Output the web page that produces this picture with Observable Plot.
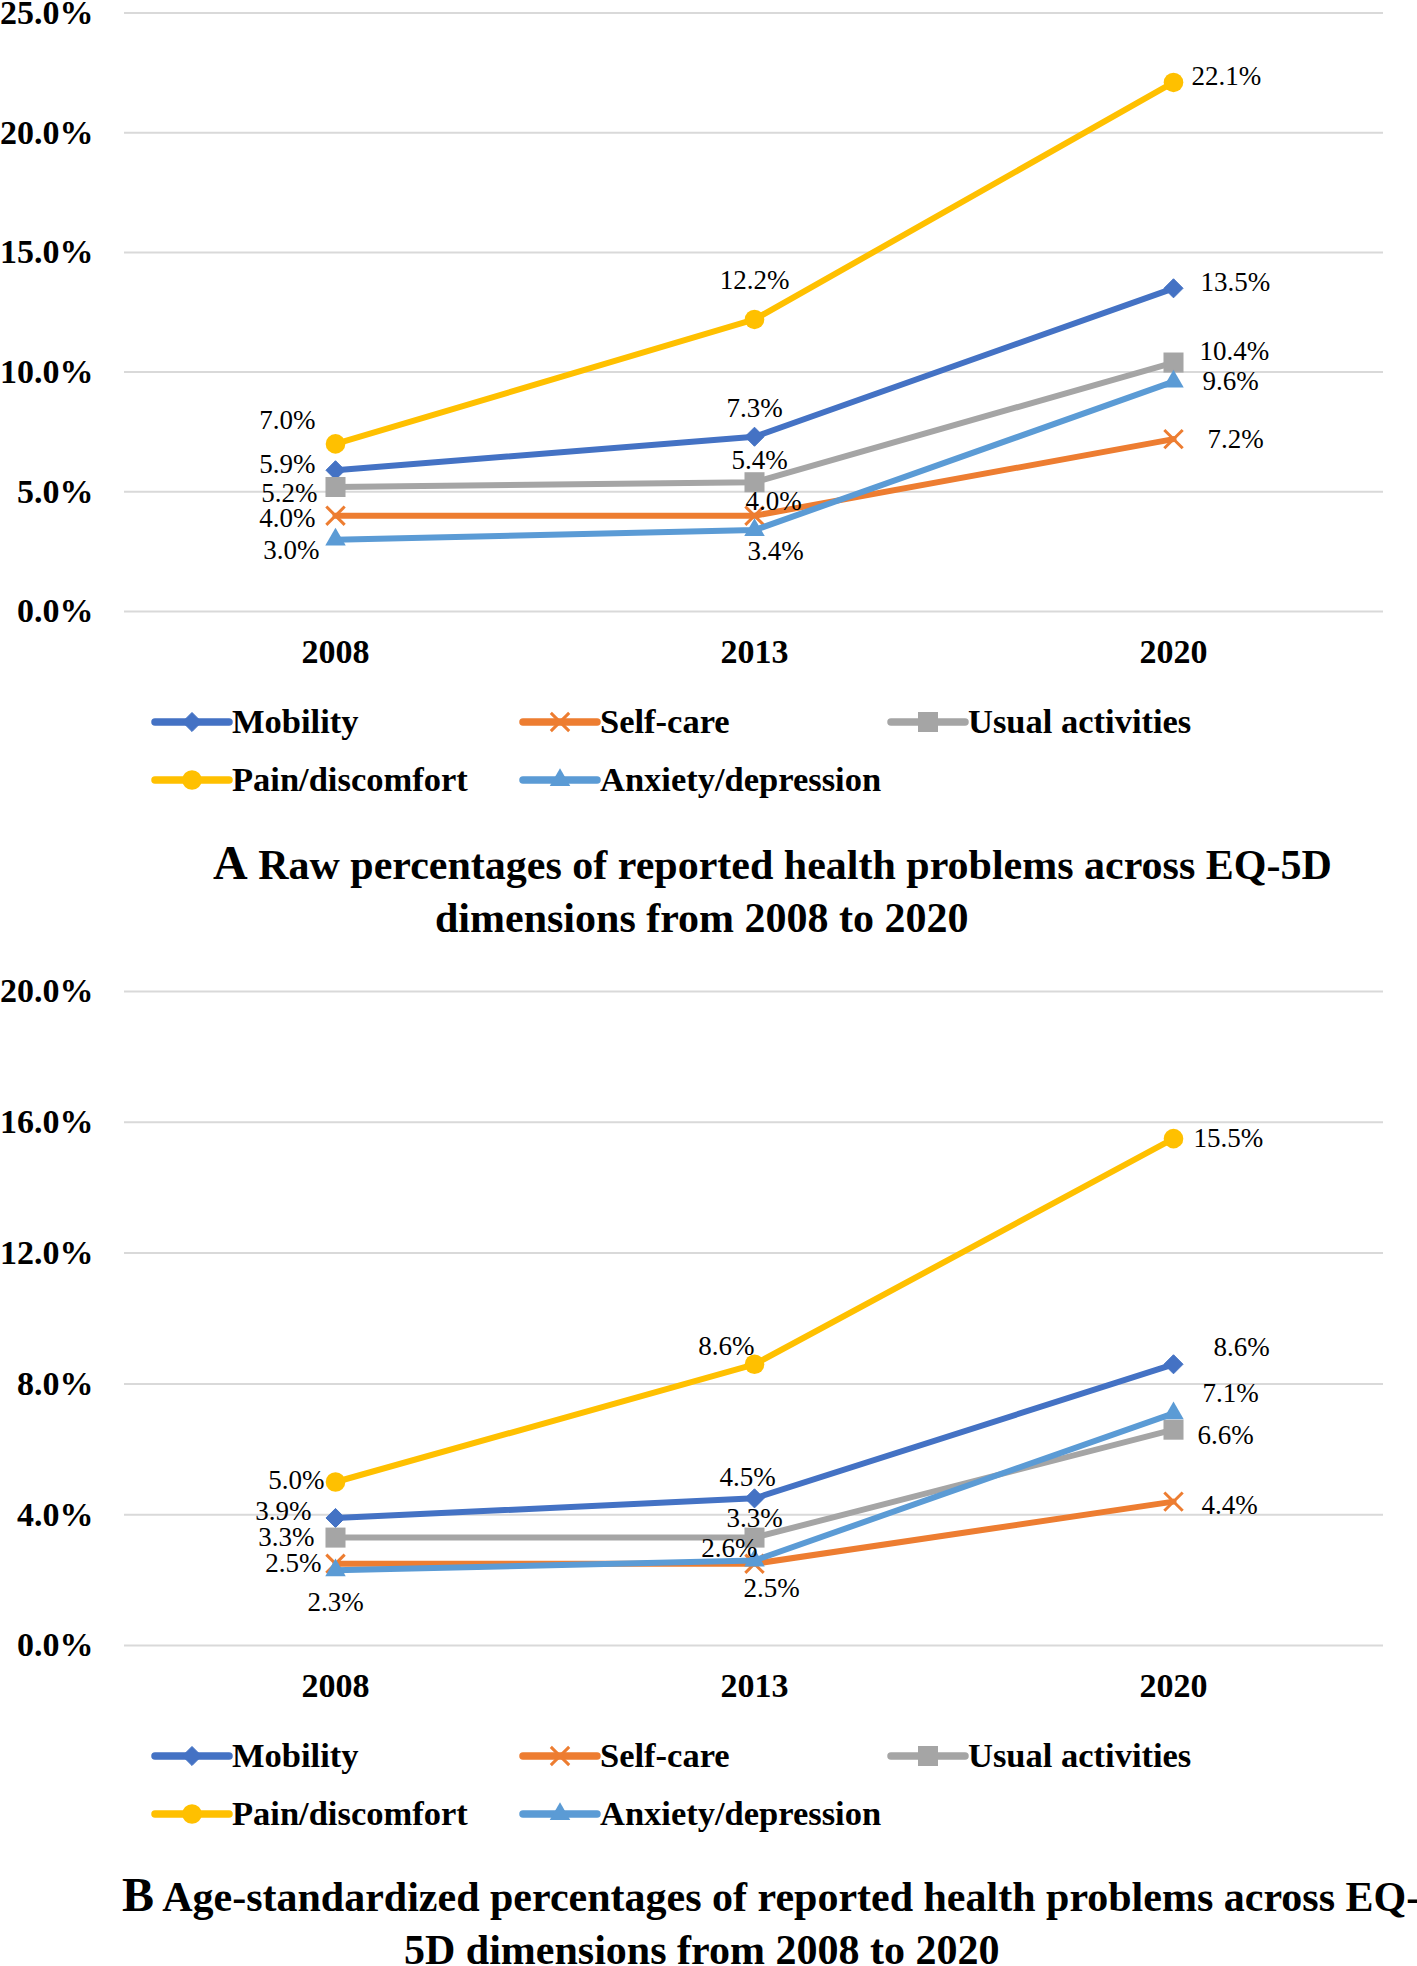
<!DOCTYPE html>
<html>
<head>
<meta charset="utf-8">
<script src="https://cdn.jsdelivr.net/npm/d3@7"></script>
<script src="https://cdn.jsdelivr.net/npm/@observablehq/plot@0.6"></script>
<style>
  html, body { margin: 0; padding: 0; background: #fff; overflow: hidden; }
  #page { position: relative; width: 1417px; height: 1966px; overflow: hidden; background: #fff;
          font-family: "Liberation Serif", "Times New Roman", serif; color: #000; }
  #page > svg { position: absolute; left: 0; }
</style>
</head>
<body>
<div id="page"></div>
<script>
// ---------------- DATA ----------------
const years = ["2008", "2013", "2020"];
const dimensions = ["Mobility", "Self-care", "Usual activities", "Pain/discomfort", "Anxiety/depression"];

// Panel A: raw percentages (%)
const rawMobility          = [5.9, 7.3, 13.5];
const rawSelfCare          = [4.0, 4.0, 7.2];
const rawUsualActivities   = [5.2, 5.4, 10.4];
const rawPainDiscomfort    = [7.0, 12.2, 22.1];
const rawAnxietyDepression = [3.0, 3.4, 9.6];

// Panel B: age-standardized percentages (%)
const stdMobility          = [3.9, 4.5, 8.6];
const stdSelfCare          = [2.5, 2.5, 4.4];
const stdUsualActivities   = [3.3, 3.3, 6.6];
const stdPainDiscomfort    = [5.0, 8.6, 15.5];
const stdAnxietyDepression = [2.3, 2.6, 7.1];

// Tick labels
const yTicksA = [0, 5, 10, 15, 20, 25];
const yTicksB = [0, 4, 8, 12, 16, 20];

// Titles
const titleA1 = ["A", " Raw percentages of reported health problems across EQ-5D"];
const titleA2 = "dimensions from 2008 to 2020";
const titleB1 = ["B", " Age-standardized percentages of reported health problems across EQ-"];
const titleB2 = "5D dimensions from 2008 to 2020";

// ---------------- STYLES ----------------
const FONT = '"Liberation Serif", "Times New Roman", serif';
const colors = ["#4472C4", "#ED7D31", "#A5A5A5", "#FFC000", "#5B9BD5"];
const plotSymbols = ["diamond2", "times", "square", "circle", "triangle"];
const d3Symbols = [d3.symbolDiamond2, d3.symbolTimes, d3.symbolSquare, d3.symbolCircle, d3.symbolTriangle];
const markerR = [8.6, 8.4, 11.3, 9.8, 7.6];

// Label placement per series per year: [textAnchor, dx, dy] (pixel offsets from the point)
const labelPosA = [
  [["end", -20, -6],  ["middle", 0, -28],  ["start", 27, -6]],
  [["end", -20, 3],   ["middle", 19, -14], ["start", 34, 0]],
  [["end", -18, 6],   ["middle", 5, -22],  ["start", 26, -11]],
  [["end", -20, -24], ["middle", 0, -39],  ["start", 18, -6]],
  [["end", -16, 11],  ["middle", 21, 21],  ["start", 29, 0]]
];
const labelPosB = [
  [["end", -24, -7],  ["middle", -7, -21], ["start", 40, -17]],
  [["end", -14, 0],   ["middle", 17, 25],  ["start", 28, 4]],
  [["end", -21, 0],   ["middle", 0, -19],  ["start", 24, 6]],
  [["end", -11, -2],  ["end", 0, -18],     ["start", 20, 0]],
  [["middle", 0, 32], ["end", 3, -12],     ["start", 29, -20]]
];

// ---------------- BUILDERS ----------------
function rowsFor(seriesValues) {
  const rows = [];
  dimensions.forEach((name, i) => {
    years.forEach((yr, j) => rows.push({dimension: name, idx: i, year: yr, yi: j, value: seriesValues[i][j]}));
  });
  return rows;
}

function makePanel(seriesValues, yTicks, labelPos, marginTop, height) {
  const rows = rowsFor(seriesValues);
  const marks = [
    Plot.ruleY(yTicks, {stroke: "#D9D9D9", strokeWidth: 2}),
    Plot.axisY({ticks: yTicks, tickSize: 0, tickPadding: 31, tickFormat: d => d.toFixed(1) + "%",
                fontSize: 34, fontWeight: "bold", fontFamily: FONT, label: null}),
    Plot.axisX({tickSize: 0, tickPadding: 27, fontSize: 34, fontWeight: "bold", fontFamily: FONT, label: null})
  ];
  dimensions.forEach((name, i) => {
    const d = rows.filter(r => r.idx === i);
    marks.push(Plot.line(d, {x: "year", y: "value", stroke: colors[i], strokeWidth: 6,
                             strokeLinejoin: "round", strokeLinecap: "round"}));
    const isStroke = plotSymbols[i] === "times";
    marks.push(Plot.dot(d, {x: "year", y: "value", symbol: plotSymbols[i], r: markerR[i],
                            fill: isStroke ? "none" : colors[i], stroke: colors[i],
                            strokeWidth: isStroke ? 3 : (plotSymbols[i] === "diamond2" ? 1 : 0)}));
  });
  rows.forEach(r => {
    const [anchor, dx, dy] = labelPos[r.idx][r.yi];
    marks.push(Plot.text([r], {x: "year", y: "value", text: d => d.value.toFixed(1) + "%",
                               textAnchor: anchor, dx, dy, lineAnchor: "middle",
                               fontSize: 27, fontWeight: "normal", fontFamily: FONT, fill: "#000"}));
  });
  return Plot.plot({
    width: 1417,
    height,
    marginTop,
    marginBottom: 60,
    marginLeft: 124,
    marginRight: 34,
    x: {type: "point", domain: years, padding: 0.5, align: 0.5},
    y: {domain: [yTicks[0], yTicks[yTicks.length - 1]]},
    style: {fontFamily: FONT, color: "#000", background: "transparent", overflow: "visible"},
    marks
  });
}

function makeLegend(topPx) {
  const slots = [[155, 42], [523, 42], [891, 42], [155, 100], [523, 100]];
  const svg = d3.create("svg").attr("width", 1417).attr("height", 140).style("top", topPx + "px");
  dimensions.forEach((name, i) => {
    const [lx, ly] = slots[i];
    const g = svg.append("g");
    g.append("line").attr("x1", lx).attr("x2", lx + 74).attr("y1", ly).attr("y2", ly)
      .attr("stroke", colors[i]).attr("stroke-width", 7.5).attr("stroke-linecap", "round");
    const isStroke = plotSymbols[i] === "times";
    g.append("path").attr("d", d3.symbol(d3Symbols[i], Math.PI * markerR[i] * markerR[i])())
      .attr("transform", `translate(${lx + 37},${ly})`)
      .attr("fill", isStroke ? "none" : colors[i]).attr("stroke", colors[i])
      .attr("stroke-width", isStroke ? 3 : (plotSymbols[i] === "diamond2" ? 1 : 0));
    g.append("text").attr("x", lx + 77).attr("y", ly).attr("dy", "0.32em")
      .attr("font-family", FONT).attr("font-size", 34.5).attr("font-weight", "bold").attr("fill", "#000")
      .text(name);
  });
  return svg.node();
}

function makeTitles() {
  const svg = d3.create("svg").attr("width", 1417).attr("height", 1966).style("top", "0px")
    .style("pointer-events", "none");
  const lines = [
    {x: 213, y: 879, parts: titleA1},
    {x: 435, y: 932, parts: [null, titleA2]},
    {x: 122, y: 1911, parts: titleB1},
    {x: 404, y: 1964, parts: [null, titleB2]}
  ];
  lines.forEach(l => {
    const t = svg.append("text").attr("x", l.x).attr("y", l.y).attr("font-family", FONT)
      .attr("font-weight", "bold").attr("fill", "#000").attr("xml:space", "preserve").style("white-space", "pre");
    if (l.parts[0]) t.append("tspan").attr("font-size", 48).text(l.parts[0]);
    t.append("tspan").attr("font-size", 42).text(l.parts[1]);
  });
  return svg.node();
}

// ---------------- RENDER ----------------
const page = document.getElementById("page");

const seriesA = [rawMobility, rawSelfCare, rawUsualActivities, rawPainDiscomfort, rawAnxietyDepression];
const seriesB = [stdMobility, stdSelfCare, stdUsualActivities, stdPainDiscomfort, stdAnxietyDepression];

const plotA = makePanel(seriesA, yTicksA, labelPosA, 12.5, 671);
plotA.style.position = "absolute"; plotA.style.top = "0px"; plotA.style.left = "0px";
page.appendChild(plotA);
page.appendChild(makeLegend(680));

const plotB = makePanel(seriesB, yTicksB, labelPosB, 31, 745);
plotB.style.position = "absolute"; plotB.style.top = "960px"; plotB.style.left = "0px";
page.appendChild(plotB);
page.appendChild(makeLegend(1714));

page.appendChild(makeTitles());
</script>
</body>
</html>
